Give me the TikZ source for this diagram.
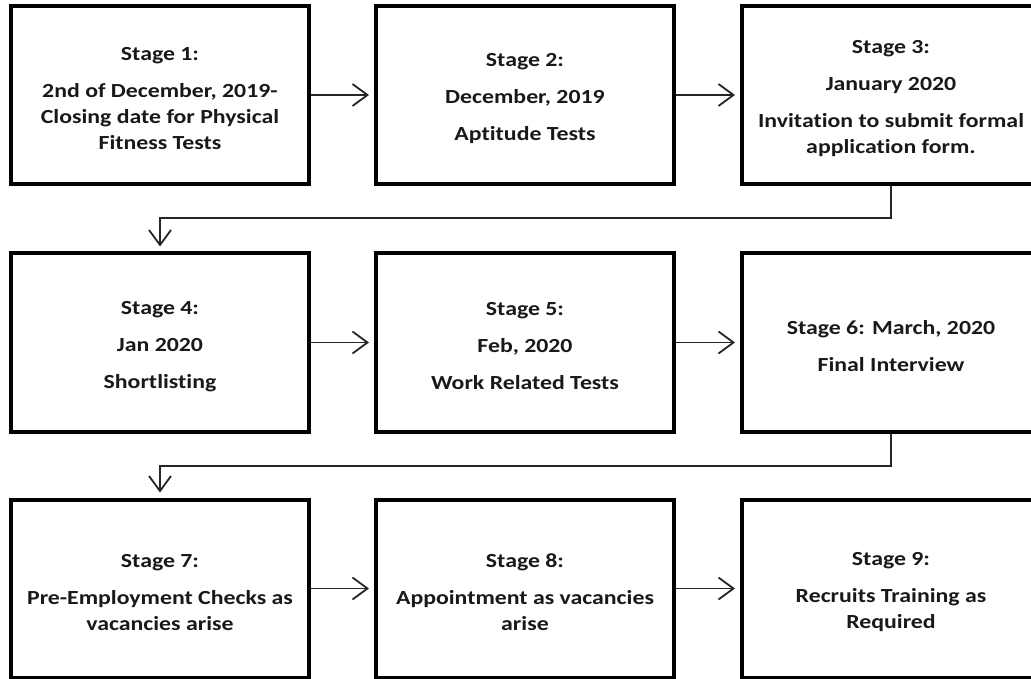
\documentclass[tikz,border=0pt]{standalone}
\usepackage{fontspec}
\setmainfont{Carlito}[FakeStretch=1.19, Ligatures=NoCommon]
\usetikzlibrary{arrows.meta}
\begin{document}
\begin{tikzpicture}[x=1pt,y=-1pt,
  stagebox/.style={draw=black, line width=4pt, minimum width=298pt, minimum height=178pt, inner sep=0pt},
  stagetext/.style={inner sep=0pt, align=center, text=black!90, yshift=-4pt,
    font=\bfseries\fontsize{20}{26}\selectfont},
  conn/.style={line width=1.8pt, draw=black!85,
    -{Straight Barb[length=15pt,width=22pt,line width=1.8pt]}, shorten >=5pt}]
\clip (0,0) rectangle (1031,679);
\fill[white] (0,0) rectangle (1031,679);
\node[stagebox] (s1) at (160,95) {};
\node[stagebox] (s2) at (525,95) {};
\node[stagebox] (s3) at (891,95) {};
\node[stagebox] (s4) at (160,342.5) {};
\node[stagebox] (s5) at (525,342.5) {};
\node[stagebox] (s6) at (891,342.5) {};
\node[stagebox] (s7) at (160,588.5) {};
\node[stagebox] (s8) at (525,588.5) {};
\node[stagebox] (s9) at (891,588.5) {};
\node[stagetext] (t1) at (s1.center) {Stage 1:\\[11pt]2nd of December, 2019-\\Closing date for Physical\\Fitness Tests};
\node[stagetext] (t2) at (s2.center) {Stage 2:\\[11pt]December, 2019\\[11pt]Aptitude Tests};
\node[stagetext] (t3) at (s3.center) {Stage 3:\\[11pt]January 2020\\[11pt]Invitation to submit formal\\application form.};
\node[stagetext] (t4) at (s4.center) {Stage 4:\\[11pt]Jan 2020\\[11pt]Shortlisting};
\node[stagetext] (t5) at (s5.center) {Stage 5:\\[11pt]Feb, 2020\\[11pt]Work Related Tests};
\node[stagetext] (t6) at (s6.center) {Stage 6: March, 2020\\[11pt]Final Interview};
\node[stagetext] (t7) at (s7.center) {Stage 7:\\[11pt]Pre-Employment Checks as\\vacancies arise};
\node[stagetext] (t8) at (s8.center) {Stage 8:\\[11pt]Appointment as vacancies\\arise};
\node[stagetext] (t9) at (s9.center) {Stage 9:\\[11pt]Recruits Training as\\Required};
\draw[conn] (s1.east) -- (s2.west);
\draw[conn] (s2.east) -- (s3.west);
\draw[conn] (s4.east) -- (s5.west);
\draw[conn] (s5.east) -- (s6.west);
\draw[conn] (s7.east) -- (s8.west);
\draw[conn] (s8.east) -- (s9.west);
\coordinate (e1) at (891,218);
\coordinate (e2) at (891,466);
\draw[conn] (s3.south) -- (e1) -| (s4.north);
\draw[conn] (s6.south) -- (e2) -| (s7.north);
\end{tikzpicture}
\end{document}
